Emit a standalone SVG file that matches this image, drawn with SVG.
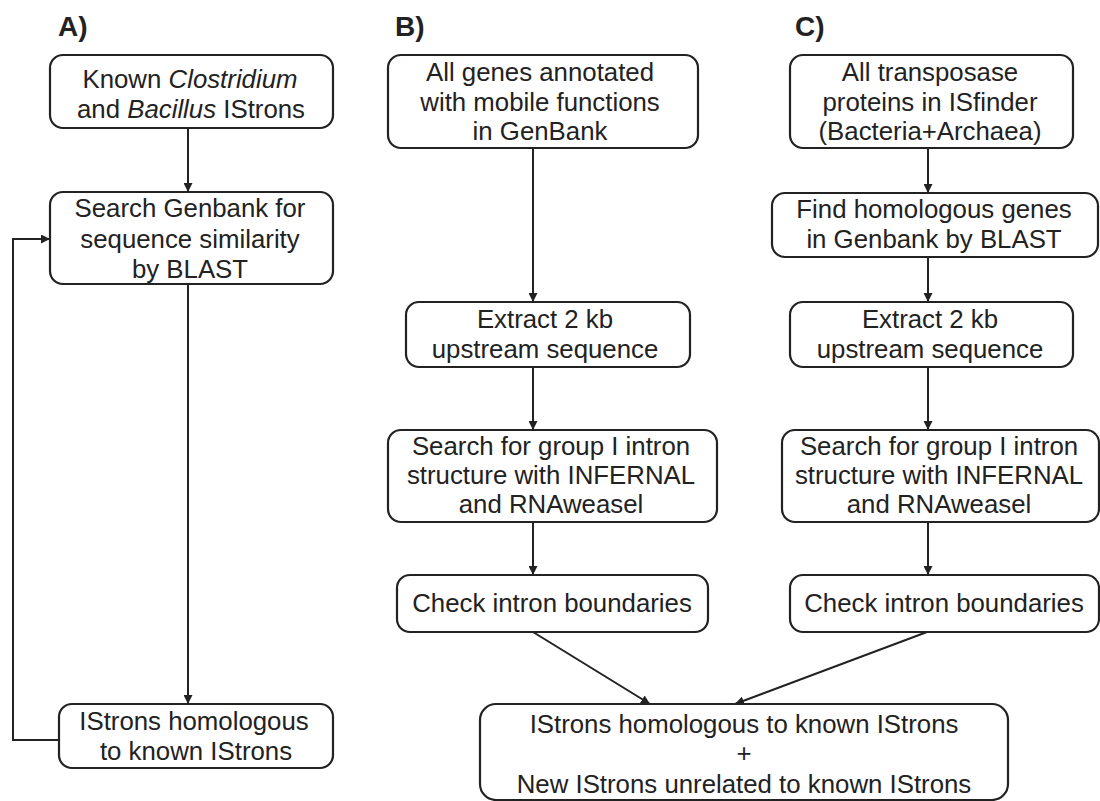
<svg xmlns="http://www.w3.org/2000/svg" width="1100" height="801" viewBox="0 0 1100 801">
<style>
.box{fill:#fff;stroke:#222;stroke-width:2.2}
.t{font-family:"Liberation Sans",Arial,sans-serif;font-size:25.8px;fill:#222;text-anchor:middle}
.lbl{font-family:"Liberation Sans",Arial,sans-serif;font-size:28px;font-weight:bold;fill:#222}
.c{fill:none;stroke:#222;stroke-width:2}
</style>
<defs>
<marker id="ah" viewBox="0 0 10 10" refX="10" refY="5" markerWidth="9" markerHeight="9" markerUnits="userSpaceOnUse" orient="auto">
<path d="M0,0 L10,5 L0,10 z" fill="#222"/>
</marker>
</defs>
<rect width="1100" height="801" fill="#fff"/>
<text class="lbl" x="58" y="36">A)</text>
<text class="lbl" x="395" y="36">B)</text>
<text class="lbl" x="795" y="36">C)</text>
<g id="connectors">
<path class="c" d="M188,128 V192" marker-end="url(#ah)"/>
<path class="c" d="M188,284 V704" marker-end="url(#ah)"/>
<path class="c" d="M59,740 H13 V239 H50" marker-end="url(#ah)"/>
<path class="c" d="M533,148 V302" marker-end="url(#ah)"/>
<path class="c" d="M533,367 V430" marker-end="url(#ah)"/>
<path class="c" d="M533,522 V575" marker-end="url(#ah)"/>
<path class="c" d="M928,148 V193" marker-end="url(#ah)"/>
<path class="c" d="M928,257 V302" marker-end="url(#ah)"/>
<path class="c" d="M928,367 V430" marker-end="url(#ah)"/>
<path class="c" d="M928,522 V575" marker-end="url(#ah)"/>
<path class="c" d="M533,632 L650,704" marker-end="url(#ah)"/>
<path class="c" d="M927,632 L735,704" marker-end="url(#ah)"/>
</g>
<g id="a1">
<rect class="box" x="50" y="55" width="283" height="73" rx="13"/>
<text class="t" x="190" y="88">Known <tspan font-style="italic">Clostridium</tspan></text>
<text class="t" x="191" y="118">and <tspan font-style="italic">Bacillus</tspan> IStrons</text>
</g>
<g id="a2">
<rect class="box" x="50" y="192" width="283" height="92" rx="13"/>
<text class="t" x="190" y="217">Search Genbank for</text>
<text class="t" x="190" y="248">sequence similarity</text>
<text class="t" x="190" y="278">by BLAST</text>
</g>
<g id="a3">
<rect class="box" x="59" y="704" width="274" height="64" rx="13"/>
<text class="t" x="194" y="730">IStrons homologous</text>
<text class="t" x="196" y="760">to known IStrons</text>
</g>
<g id="b1">
<rect class="box" x="388" y="55" width="310" height="93" rx="13"/>
<text class="t" x="540" y="81">All genes annotated</text>
<text class="t" x="540" y="111">with mobile functions</text>
<text class="t" x="540" y="140">in GenBank</text>
</g>
<g id="b2">
<rect class="box" x="406" y="302" width="284" height="65" rx="13"/>
<text class="t" x="545" y="328">Extract 2 kb</text>
<text class="t" x="545" y="358">upstream sequence</text>
</g>
<g id="b3">
<rect class="box" x="388" y="430" width="329" height="92" rx="13"/>
<text class="t" x="551" y="455">Search for group I intron</text>
<text class="t" x="551" y="484">structure with INFERNAL</text>
<text class="t" x="551" y="513">and RNAweasel</text>
</g>
<g id="b4">
<rect class="box" x="397" y="575" width="311" height="57" rx="13"/>
<text class="t" x="552" y="612">Check intron boundaries</text>
</g>
<g id="c1">
<rect class="box" x="790" y="55" width="283" height="93" rx="13"/>
<text class="t" x="930" y="81">All transposase</text>
<text class="t" x="930" y="111">proteins in ISfinder</text>
<text class="t" x="930" y="140">(Bacteria+Archaea)</text>
</g>
<g id="c2">
<rect class="box" x="772" y="193" width="326" height="64" rx="13"/>
<text class="t" x="934" y="218">Find homologous genes</text>
<text class="t" x="934" y="248">in Genbank by BLAST</text>
</g>
<g id="c3">
<rect class="box" x="790" y="302" width="283" height="65" rx="13"/>
<text class="t" x="930" y="328">Extract 2 kb</text>
<text class="t" x="930" y="358">upstream sequence</text>
</g>
<g id="c4">
<rect class="box" x="782" y="430" width="317" height="92" rx="13"/>
<text class="t" x="939" y="455">Search for group I intron</text>
<text class="t" x="939" y="484">structure with INFERNAL</text>
<text class="t" x="939" y="513">and RNAweasel</text>
</g>
<g id="c5">
<rect class="box" x="790" y="575" width="309" height="57" rx="13"/>
<text class="t" x="944" y="612">Check intron boundaries</text>
</g>
<g id="final">
<rect class="box" x="480" y="704" width="528" height="96" rx="16"/>
<text class="t" x="744" y="733">IStrons homologous to known IStrons</text>
<text class="t" x="744" y="762">+</text>
<text class="t" x="744" y="793">New IStrons unrelated to known IStrons</text>
</g>
</svg>
